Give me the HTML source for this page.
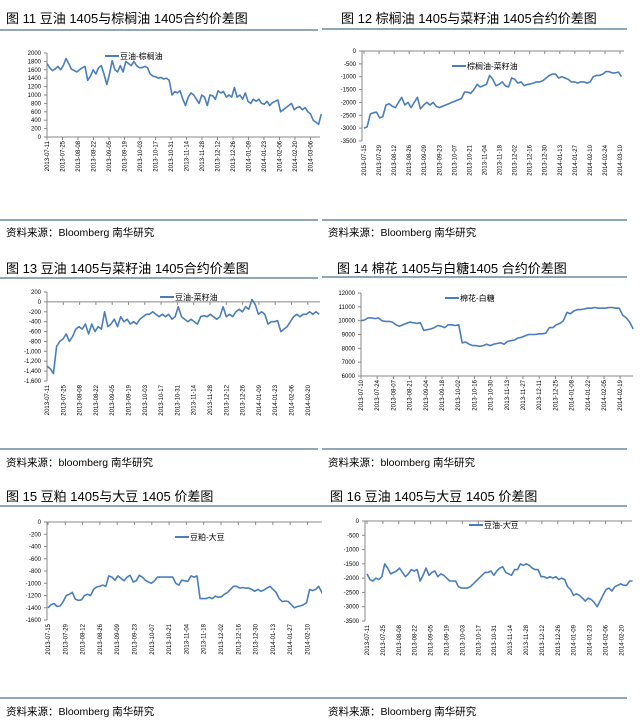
<!DOCTYPE html>
<html><head><meta charset="utf-8">
<style>
body{margin:0;width:644px;height:720px;background:#fff;overflow:hidden;font-family:"Liberation Sans","Noto Sans CJK SC",sans-serif;}
svg{display:block}
</style></head>
<body>
<svg id="s" width="644" height="720" xmlns="http://www.w3.org/2000/svg" font-family="Liberation Sans, Noto Sans CJK SC, sans-serif"></svg>
<script>
const labels11=["2013-07-11","2013-07-25","2013-08-08","2013-08-22","2013-09-05","2013-09-19","2013-10-03","2013-10-17","2013-10-31","2013-11-14","2013-11-28","2013-12-12","2013-12-26","2014-01-09","2014-01-23","2014-02-06","2014-02-20","2014-03-06"];
const values11=[1750,1650,1580,1620,1680,1600,1700,1870,1750,1620,1580,1550,1600,1650,1680,1350,1450,1600,1500,1650,1700,1500,1250,1500,1820,1600,1550,1700,1550,1800,1750,1700,1800,1700,1650,1650,1680,1650,1500,1450,1430,1400,1420,1380,1400,1350,1000,1080,1050,1100,900,750,950,1050,1000,900,800,1000,950,750,1000,980,900,1100,1050,1080,950,1000,950,1180,950,1000,900,1050,850,800,900,850,900,800,780,850,750,820,850,880,600,650,700,750,800,650,700,720,650,700,600,550,400,350,300,550];
const yticks11=[0,200,400,600,800,1000,1200,1400,1600,1800,2000];

const labels12=["2013-07-15","2013-07-29","2013-08-12","2013-08-26","2013-09-09","2013-09-23","2013-10-07","2013-10-21","2013-11-04","2013-11-18","2013-12-02","2013-12-16","2013-12-30","2014-01-13","2014-01-27","2014-02-10","2014-02-24","2014-03-10"];
const values12=[-3000,-2950,-2450,-2400,-2380,-2600,-2550,-2100,-2050,-2150,-2200,-2000,-1800,-2100,-2000,-2200,-2000,-1800,-2250,-2100,-2000,-2100,-2000,-2150,-2200,-2150,-2100,-2050,-2000,-1950,-1900,-1850,-1600,-1600,-1650,-1500,-1300,-1400,-1350,-1300,-950,-1100,-1350,-1300,-1200,-1350,-1400,-1050,-1100,-1250,-1200,-1350,-1300,-1280,-1250,-1200,-1200,-1150,-1050,-950,-900,-900,-1050,-1000,-1050,-1100,-1200,-1200,-1250,-1200,-1200,-1250,-1200,-1000,-950,-950,-900,-800,-800,-850,-850,-820,-1000];
const yticks12=[0,-500,-1000,-1500,-2000,-2500,-3000,-3500];

const labels13=["2013-07-11","2013-07-25","2013-08-08","2013-08-22","2013-09-05","2013-09-19","2013-10-03","2013-10-17","2013-10-31","2013-11-14","2013-11-28","2013-12-12","2013-12-26","2014-01-09","2014-01-23","2014-02-06","2014-02-20"];
const values13=[-1300,-1350,-1450,-900,-800,-750,-650,-800,-700,-550,-500,-550,-450,-650,-450,-600,-500,-550,-200,-500,-450,-350,-500,-300,-400,-350,-450,-400,-450,-350,-300,-250,-250,-200,-250,-300,-250,-300,-250,-350,-300,-100,-300,-350,-400,-350,-400,-450,-300,-280,-300,-250,-300,-350,-300,-100,-300,-250,-300,-200,-150,-200,-100,-150,50,-50,-250,-200,-250,-450,-400,-400,-380,-600,-550,-500,-400,-300,-250,-300,-250,-250,-200,-250,-200,-250];
const yticks13=[200,0,-200,-400,-600,-800,-1000,-1200,-1400,-1600];

const labels14=["2013-07-10","2013-07-24","2013-08-07","2013-08-21","2013-09-04","2013-09-18","2013-10-02","2013-10-16","2013-10-30","2013-11-13","2013-11-27","2013-12-11","2013-12-25","2014-01-08","2014-01-22","2014-02-05","2014-02-19"];
const values14=[10000,10050,10200,10200,10150,10200,10000,9950,9950,9900,9700,9600,9700,9800,9900,9850,9800,9850,9300,9350,9400,9500,9650,9600,9500,9700,9700,9650,9700,8400,8450,8300,8200,8200,8150,8200,8300,8200,8300,8350,8400,8300,8500,8550,8600,8750,8800,8900,9000,9000,9000,9050,9050,9100,9500,9500,9700,9800,10000,10600,10500,10700,10800,10800,10850,10900,10900,10950,10900,10900,10900,10950,10950,10900,10900,10400,10200,9900,9400];
const yticks14=[6000,7000,8000,9000,10000,11000,12000];

const labels15=["2013-07-15","2013-07-29","2013-08-12","2013-08-26","2013-09-09","2013-09-23","2013-10-07","2013-10-21","2013-11-04","2013-11-18","2013-12-02","2013-12-16","2013-12-30","2014-01-13","2014-01-27","2014-02-10","2014-02-24"];
const values15=[-1400,-1350,-1330,-1380,-1370,-1300,-1200,-1180,-1150,-1260,-1280,-1270,-1200,-1180,-1200,-1100,-1060,-1050,-1030,-1050,-880,-900,-950,-880,-920,-960,-900,-870,-980,-960,-870,-900,-950,-980,-1000,-960,-900,-900,-900,-900,-900,-900,-1000,-1030,-950,-960,-970,-880,-900,-880,-1250,-1250,-1250,-1230,-1250,-1210,-1230,-1220,-1180,-1150,-1100,-1050,-1050,-1080,-1070,-1080,-1080,-1100,-1130,-1100,-1130,-1110,-1080,-1050,-1100,-1150,-1250,-1300,-1290,-1300,-1350,-1400,-1380,-1370,-1350,-1320,-1100,-1120,-1100,-1050,-1150,-1250];
const yticks15=[0,-200,-400,-600,-800,-1000,-1200,-1400,-1600];

const labels16=["2013-07-11","2013-07-25","2013-08-08","2013-08-22","2013-09-05","2013-09-19","2013-10-03","2013-10-17","2013-10-31","2013-11-14","2013-11-28","2013-12-12","2013-12-26","2014-01-09","2014-01-23","2014-02-06","2014-02-20"];
const values16=[-1850,-2050,-2100,-2000,-2050,-1950,-1500,-1650,-1850,-1800,-1750,-1650,-1800,-1950,-1850,-1700,-1750,-1700,-2100,-1900,-1650,-1900,-1800,-1750,-1950,-1850,-1900,-2000,-2100,-2100,-2100,-2300,-2350,-2350,-2350,-2300,-2200,-2100,-2000,-1900,-1800,-1800,-1750,-1900,-1750,-1650,-1600,-1800,-1850,-1900,-1700,-1700,-1500,-1550,-1500,-1550,-1650,-1700,-1700,-1950,-1950,-2000,-1950,-2000,-1950,-2050,-2000,-2050,-2300,-2400,-2600,-2550,-2600,-2700,-2800,-2700,-2750,-2850,-3000,-2800,-2600,-2400,-2350,-2450,-2300,-2250,-2200,-2250,-2250,-2100,-2100];
const yticks16=[0,-500,-1000,-1500,-2000,-2500,-3000,-3500];

const NS="http://www.w3.org/2000/svg";
const svg=document.getElementById('s');
function mk(tag,attrs,parent){const e=document.createElementNS(NS,tag);for(const k in attrs)e.setAttribute(k,attrs[k]);(parent||svg).appendChild(e);return e;}
function fmt(v,comma){let s=String(Math.abs(v));if(comma&&Math.abs(v)>=1000)s=s.slice(0,-3)+','+s.slice(-3);return (v<0?'-':'')+s;}

const charts=[
 {id:'c11',title:'图 11 豆油 1405与棕榈油 1405合约价差图',tx:6,ty:23,lx0:0,lx1:318,ly:30,src:'资料来源：Bloomberg 南华研究',sy:236,sly:220,
  xL:47,xR:320,x0:47,step:15.5,yT:53,yB:137,ymin:0,ymax:2000,axisAt:0,labels:labels11,values:values11,yticks:yticks11,dataEnd:17.7,leg:'豆油-棕榈油',legX:105,legY:56,comma:false,clip:[0,322]},
 {id:'c12',title:'图 12 棕榈油 1405与菜籽油 1405合约价差图',tx:341,ty:23,lx0:322,lx1:627,ly:29,src:'资料来源：Bloomberg 南华研究',sy:236,sly:220,
  xL:362,xR:624,x0:364,step:15.06,yT:51,yB:141,ymin:-3500,ymax:0,axisAt:0,labels:labels12,values:values12,yticks:yticks12,dataEnd:17.1,leg:'棕榈油-菜籽油',legX:452,legY:66,comma:false,clip:[322,644]},
 {id:'c13',title:'图 13 豆油 1405与菜籽油 1405合约价差图',tx:6,ty:273,lx0:0,lx1:318,ly:278,src:'资料来源：bloomberg 南华研究',sy:466,sly:449,
  xL:47,xR:320,x0:47,step:16.3,yT:292,yB:381,ymin:-1600,ymax:200,axisAt:0,labels:labels13,values:values13,yticks:yticks13,dataEnd:16.7,leg:'豆油-菜籽油',legX:160,legY:297,comma:true,clip:[0,322]},
 {id:'c14',title:'图 14 棉花 1405与白糖1405 合约价差图',tx:337,ty:273,lx0:322,lx1:627,ly:277,src:'资料来源：bloomberg 南华研究',sy:466,sly:449,
  xL:361,xR:633,x0:361,step:16.2,yT:293,yB:376,ymin:6000,ymax:12000,axisAt:6000,labels:labels14,values:values14,yticks:yticks14,dataEnd:16.8,leg:'棉花-白糖',legX:445,legY:298,comma:false,clip:[322,644]},
 {id:'c15',title:'图 15 豆粕 1405与大豆 1405 价差图',tx:6,ty:501,lx0:0,lx1:322,ly:506,src:'资料来源：Bloomberg 南华研究',sy:715,sly:698,
  xL:47,xR:345,x0:48,step:17.3,yT:522,yB:620,ymin:-1600,ymax:0,axisAt:0,labels:labels15,values:values15,yticks:yticks15,dataEnd:16.0,leg:'豆粕-大豆',legX:175,legY:537,comma:false,clip:[0,322]},
 {id:'c16',title:'图 16 豆油 1405与大豆 1405 价差图',tx:330,ty:501,lx0:322,lx1:627,ly:506,src:'资料来源：Bloomberg 南华研究',sy:715,sly:698,
  xL:365,xR:632,x0:367,step:15.9,yT:521,yB:621,ymin:-3500,ymax:0,axisAt:0,labels:labels16,values:values16,yticks:yticks16,dataEnd:16.7,leg:'豆油-大豆',legX:469,legY:525,comma:false,clip:[322,644]}
];

charts.forEach((c,ci)=>{
  const cp=mk('clipPath',{id:'clip'+ci});
  mk('rect',{x:c.clip[0],y:0,width:c.clip[1]-c.clip[0],height:720},cp);
  const g=mk('g',{'clip-path':'url(#clip'+ci+')'});
  
  
  const ys=v=>c.yT+(c.ymax-v)/(c.ymax-c.ymin)*(c.yB-c.yT);
  const xs=t=>c.x0+t*c.step;
  const t=mk('text',{x:c.tx,y:c.ty,'font-size':13,fill:'#000'},g);t.textContent=c.title;
  
  mk('line',{x1:c.lx0,x2:c.lx1,y1:c.ly,y2:c.ly,stroke:'#1f4f6f','stroke-width':1},g);
  mk('line',{x1:c.lx0,x2:c.lx1,y1:c.sly,y2:c.sly,stroke:'#1f4f6f','stroke-width':1},g);
  const s=mk('text',{x:c.lx0+6,y:c.sy,'font-size':10.5,fill:'#000'},g);s.textContent=c.src;
  
  // y axis
  mk('line',{x1:c.xL,x2:c.xL,y1:c.yT,y2:c.yB,stroke:'#888','stroke-width':1},g);
  c.yticks.forEach(v=>{
    const y=ys(v);
    mk('line',{x1:c.xL-3,x2:c.xL,y1:y,y2:y,stroke:'#888'},g);
    const l=mk('text',{x:c.xL-6,y:y+2,'font-size':6,'text-anchor':'end',fill:'#000'},g);l.textContent=fmt(v,c.comma);
    
  });
  // x axis
  const ay=ys(c.axisAt);
  mk('line',{x1:c.xL,x2:c.xR,y1:ay,y2:ay,stroke:'#888','stroke-width':1},g);
  c.labels.forEach((lab,i)=>{
    const x=xs(i);
    mk('line',{x1:x,x2:x,y1:ay,y2:ay+3,stroke:'#888'},g);
    const ly=c.yB+4;
    const l=mk('text',{x:x+2,y:ly,'font-size':6,'text-anchor':'end',fill:'#000',transform:`rotate(-90 ${x+2} ${ly})`},g);
    l.textContent=lab;
    
  });
  // series
  const n=c.values.length;
  const pts=c.values.map((v,i)=>xs(i*c.dataEnd/(n-1)).toFixed(1)+','+ys(v).toFixed(1)).join(' ');
  const p=mk('polyline',{points:pts,fill:'none',stroke:'#4a7ebb','stroke-width':1.6,'stroke-linejoin':'round'},g);
  
  // legend
  mk('line',{x1:c.legX,x2:c.legX+14,y1:c.legY,y2:c.legY,stroke:'#4a7ebb','stroke-width':2},g);
  const lt=mk('text',{x:c.legX+15,y:c.legY+3,'font-size':8,fill:'#000'},g);lt.textContent=c.leg;
  
});
</script>
</body></html>
